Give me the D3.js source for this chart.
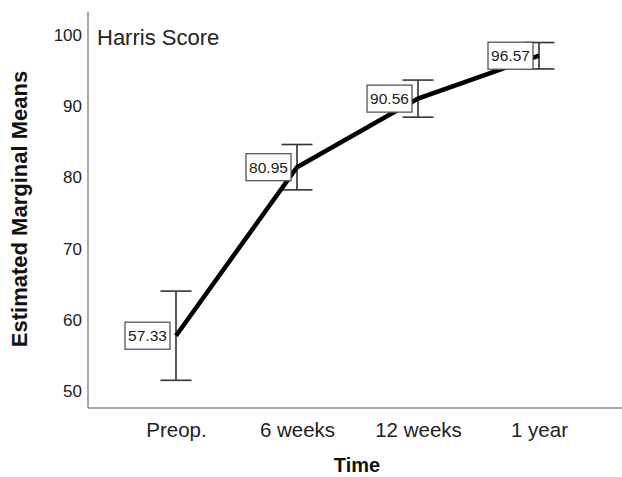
<!DOCTYPE html>
<html>
<head>
<meta charset="utf-8">
<script src="https://cdn.jsdelivr.net/npm/d3@7"></script>
<style>
  html, body { margin: 0; padding: 0; background: #fff; }
  svg { display: block; font-family: "Liberation Sans", Arial, sans-serif; }
</style>
</head>
<body>
<svg id="chart" width="622" height="477"></svg>
<script>
// Estimated marginal means of the Harris Score over time, with 95% CI
const timePoints = ["Preop.", "6 weeks", "12 weeks", "1 year"];
const meanValues = [57.33, 80.95, 90.56, 96.57];
const ciLower = [51.08, 77.77, 87.96, 94.72];
const ciUpper = [63.58, 84.13, 93.16, 98.42];
const yTickValues = [50, 60, 70, 80, 90, 100];

const svg = d3.select("#chart");

const plot = { left: 88, right: 622, top: 12, bottom: 408 };

const x = d3.scalePoint()
  .domain(timePoints)
  .range([176, 539]);

const y = d3.scaleLinear()
  .domain([47.2, 102.7])
  .range([plot.bottom, plot.top]);

const rows = timePoints.map((t, i) => ({
  t, mean: meanValues[i], lo: ciLower[i], hi: ciUpper[i]
}));

// Axis lines
svg.append("line")
  .attr("x1", plot.left).attr("x2", plot.left)
  .attr("y1", plot.top).attr("y2", plot.bottom)
  .attr("stroke", "#8a8a8a").attr("stroke-width", 1.5);
svg.append("line")
  .attr("x1", plot.left).attr("x2", plot.right)
  .attr("y1", plot.bottom).attr("y2", plot.bottom)
  .attr("stroke", "#8a8a8a").attr("stroke-width", 1.5);

// Y tick labels (no tick marks)
const yAxis = svg.append("g")
  .attr("transform", `translate(${plot.left},0)`)
  .call(d3.axisLeft(y).tickValues(yTickValues).tickSize(0).tickPadding(6));
yAxis.select(".domain").remove();
yAxis.selectAll("text")
  .attr("font-family", "Liberation Sans, Arial, sans-serif")
  .attr("font-size", 17)
  .attr("fill", "#222")
  .attr("dy", "0.52em");

// X tick labels
const xAxis = svg.append("g")
  .attr("transform", `translate(0,${plot.bottom})`)
  .call(d3.axisBottom(x).tickSize(0).tickPadding(0));
xAxis.select(".domain").remove();
xAxis.selectAll("text")
  .attr("font-family", "Liberation Sans, Arial, sans-serif")
  .attr("font-size", 20.5)
  .attr("fill", "#222")
  .attr("y", 0)
  .attr("dy", 29);

// Axis titles
svg.append("text")
  .attr("x", 357).attr("y", 472)
  .attr("text-anchor", "middle")
  .attr("font-size", 20).attr("font-weight", "bold").attr("fill", "#111")
  .text("Time");

svg.append("text")
  .attr("transform", "translate(27,209) rotate(-90)")
  .attr("text-anchor", "middle")
  .attr("font-size", 22).attr("font-weight", "bold").attr("fill", "#111")
  .text("Estimated Marginal Means");

// Chart title inside the plot
svg.append("text")
  .attr("x", 97).attr("y", 45)
  .attr("font-size", 22).attr("fill", "#222")
  .text("Harris Score");

// Error bars
const capHalf = 15.5;
const eb = svg.append("g").attr("stroke", "#333").attr("stroke-width", 1.6);
eb.selectAll("line.stem").data(rows).join("line").attr("class", "stem")
  .attr("x1", d => x(d.t)).attr("x2", d => x(d.t))
  .attr("y1", d => y(d.lo)).attr("y2", d => y(d.hi));
eb.selectAll("line.capHi").data(rows).join("line").attr("class", "capHi")
  .attr("x1", d => x(d.t) - capHalf).attr("x2", d => x(d.t) + capHalf)
  .attr("y1", d => y(d.hi)).attr("y2", d => y(d.hi));
eb.selectAll("line.capLo").data(rows).join("line").attr("class", "capLo")
  .attr("x1", d => x(d.t) - capHalf).attr("x2", d => x(d.t) + capHalf)
  .attr("y1", d => y(d.lo)).attr("y2", d => y(d.lo));

// Mean line
svg.append("path")
  .datum(rows)
  .attr("fill", "none")
  .attr("stroke", "#000")
  .attr("stroke-width", 4.5)
  .attr("d", d3.line().x(d => x(d.t)).y(d => y(d.mean)));

// Value labels in boxes, left of each point
const boxW = 45, boxH = 27, gap = 6;
const lab = svg.append("g").selectAll("g").data(rows).join("g")
  .attr("transform", d => `translate(${x(d.t) - gap - boxW},${y(d.mean) - boxH / 2})`);
lab.append("rect")
  .attr("width", boxW).attr("height", boxH)
  .attr("fill", "#fff").attr("stroke", "#555").attr("stroke-width", 1.3);
lab.append("text")
  .attr("x", boxW / 2).attr("y", boxH / 2)
  .attr("dy", "0.36em")
  .attr("text-anchor", "middle")
  .attr("font-size", 15.5).attr("fill", "#222")
  .text(d => d.mean.toFixed(2));
</script>
</body>
</html>
